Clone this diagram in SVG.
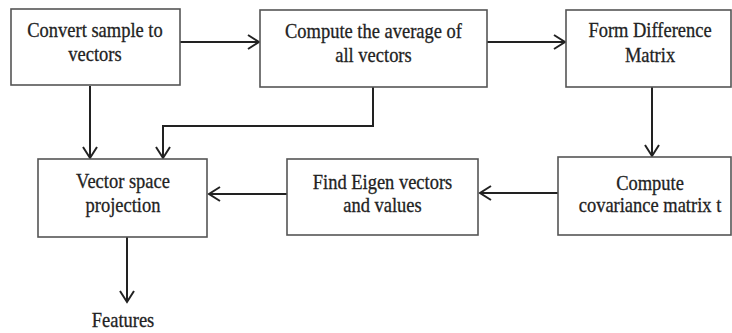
<svg xmlns="http://www.w3.org/2000/svg" width="732" height="333" viewBox="0 0 732 333">
<defs>
<marker id="arr" markerUnits="userSpaceOnUse" markerWidth="16" markerHeight="18" refX="12" refY="8" orient="auto">
<path d="M1,1 L12,8 L1,15" fill="none" stroke="#222" stroke-width="2"/>
</marker>
<style>
.box{fill:#fff;stroke:#555;stroke-width:1.6}
.lbl{font-family:"Liberation Serif","Times New Roman",serif;font-size:21px;fill:#222;stroke:#222;stroke-width:0.3;text-anchor:middle}
.con{fill:none;stroke:#222;stroke-width:2;marker-end:url(#arr)}
</style>
</defs>
<rect width="732" height="333" fill="#fff"/>
<g id="connectors">
<path class="con" d="M180,42 H259"/>
<path class="con" d="M487,42 H565"/>
<path class="con" d="M90,86 V158"/>
<path class="con" d="M373,87 V126 H163 V158"/>
<path class="con" d="M652,87 V156"/>
<path class="con" d="M558,193 H480"/>
<path class="con" d="M287,194 H209"/>
<path class="con" d="M127,237 V302"/>
</g>
<g id="n1">
<rect class="box" x="11" y="9" width="169" height="76"/>
<text class="lbl" transform="translate(95,37) scale(0.88,1)"><tspan x="0">Convert sample to</tspan><tspan x="0" dy="24">vectors</tspan></text>
</g>
<g id="n2">
<rect class="box" x="260" y="10" width="227" height="77"/>
<text class="lbl" transform="translate(373.5,38) scale(0.88,1)"><tspan x="0">Compute the average of</tspan><tspan x="0" dy="24">all vectors</tspan></text>
</g>
<g id="n3">
<rect class="box" x="566" y="10" width="165" height="77"/>
<text class="lbl" transform="translate(650,37) scale(0.88,1)"><tspan x="0">Form Difference</tspan><tspan x="0" dy="25">Matrix</tspan></text>
</g>
<g id="n4">
<rect class="box" x="38" y="159" width="169" height="78"/>
<text class="lbl" transform="translate(123,188) scale(0.88,1)"><tspan x="0">Vector space</tspan><tspan x="0" dy="24">projection</tspan></text>
</g>
<g id="n5">
<rect class="box" x="287" y="159" width="191" height="76"/>
<text class="lbl" transform="translate(382.5,189) scale(0.88,1)"><tspan x="0">Find Eigen vectors</tspan><tspan x="0" dy="23">and values</tspan></text>
</g>
<g id="n6">
<rect class="box" x="558" y="157" width="173" height="78"/>
<text class="lbl" transform="translate(650,190) scale(0.88,1)"><tspan x="0">Compute</tspan><tspan x="0" dy="22">covariance matrix t</tspan></text>
</g>
<g id="n7">
<text class="lbl" transform="translate(123,327) scale(0.88,1)" x="0">Features</text>
</g>
</svg>
